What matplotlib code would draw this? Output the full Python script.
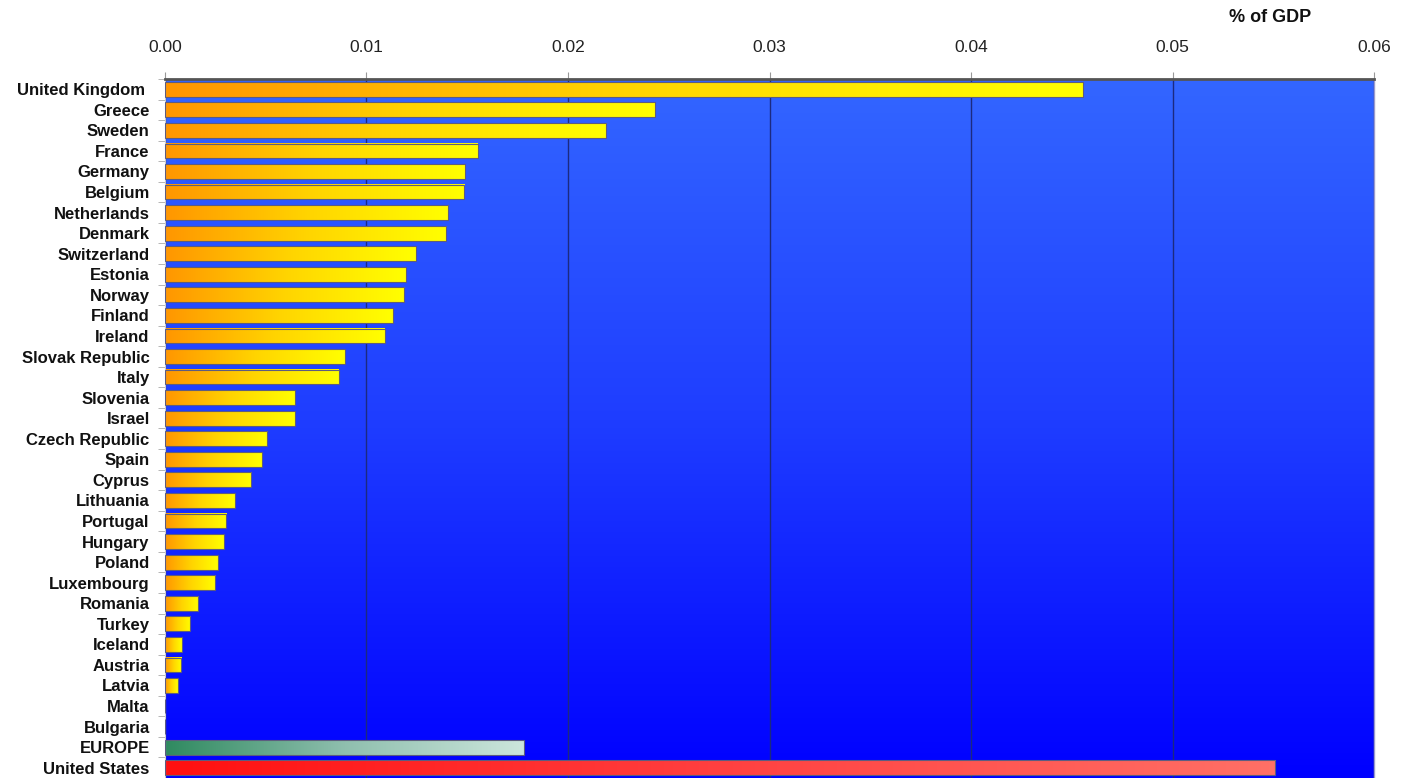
import numpy as np
import matplotlib.pyplot as plt
from matplotlib.colors import LinearSegmentedColormap
from matplotlib.ticker import FixedLocator

plt.rcParams['font.family'] = ['Liberation Sans', 'DejaVu Sans']

# Data (% of GDP)
countries = ['United Kingdom ', 'Greece', 'Sweden', 'France', 'Germany', 'Belgium',
             'Netherlands', 'Denmark', 'Switzerland', 'Estonia', 'Norway', 'Finland',
             'Ireland', 'Slovak Republic', 'Italy', 'Slovenia', 'Israel',
             'Czech Republic', 'Spain', 'Cyprus', 'Lithuania', 'Portugal', 'Hungary',
             'Poland', 'Luxembourg', 'Romania', 'Turkey', 'Iceland', 'Austria',
             'Latvia', 'Malta', 'Bulgaria']
country_values = [0.04555, 0.02430, 0.02190, 0.01553, 0.01487, 0.01485,
                  0.01406, 0.01396, 0.01245, 0.01195, 0.01187, 0.01131,
                  0.01091, 0.00891, 0.00862, 0.00645, 0.00644,
                  0.00508, 0.00481, 0.00427, 0.00347, 0.00304, 0.00291,
                  0.00263, 0.00249, 0.00166, 0.00126, 0.00084, 0.00082,
                  0.00063, 0.0, 0.0]
europe_label = 'EUROPE'
europe_value = 0.0178
us_label = 'United States'
us_value = 0.0551

x_ticks = [0.00, 0.01, 0.02, 0.03, 0.04, 0.05, 0.06]

labels = countries + [europe_label, us_label]
values = country_values + [europe_value, us_value]
cmaps = (['country'] * len(countries)) + ['europe', 'us']

gradients = {
    'country': LinearSegmentedColormap.from_list('c', ['#ff9600', '#ffd400', '#ffff00']),
    'europe': LinearSegmentedColormap.from_list('e', ['#2f8a60', '#8fbfae', '#cce6dc']),
    'us': LinearSegmentedColormap.from_list('u', ['#ff1010', '#ff4040', '#ff7066']),
}
bg_cmap = LinearSegmentedColormap.from_list('bg', ['#3366ff', '#1e3cff', '#0000ff'])

fig = plt.figure(figsize=(14.1, 7.78), dpi=100)
ax = fig.add_axes([0.117, 0.0, 0.8575, 0.8985])

n = len(labels)
ypos = np.arange(n)
bar_h = 0.72

# blue gradient background
ax.imshow(np.linspace(0, 1, 256).reshape(-1, 1), cmap=bg_cmap, aspect='auto',
          extent=[0, 1, 0, 1], transform=ax.transAxes, zorder=0)

# gradient-filled bars
grad = np.linspace(0, 1, 256).reshape(1, -1)
for y, v, c in zip(ypos, values, cmaps):
    if v <= 0:
        continue
    ax.imshow(grad, cmap=gradients[c], aspect='auto', interpolation='bilinear',
              extent=[0, v, y + bar_h / 2, y - bar_h / 2], zorder=2)
ax.barh(ypos, values, height=bar_h, facecolor='none', edgecolor='#5c5c80',
        linewidth=0.8, zorder=3)

ax.set_xlim(0, 0.06)
ax.set_ylim(n - 0.5, -0.5)

ax.xaxis.tick_top()
ax.set_xticks(x_ticks)
ax.set_xticklabels([f'{t:.2f}' for t in x_ticks], fontsize=12.5, color='#222222')
ax.tick_params(axis='x', length=5, color='#999999', pad=12)
ax.grid(True, axis='x', color='#1c2a80', linewidth=1.0, zorder=1)

ax.set_yticks(ypos)
ax.set_yticklabels(labels, fontsize=12, fontweight='bold', color='#111111')
ax.tick_params(axis='y', which='major', length=0, pad=11)
ax.yaxis.set_minor_locator(FixedLocator(np.arange(-0.5, n - 1, 1.0)))
ax.tick_params(axis='y', which='minor', length=5, color='#aaaaaa')

ax.spines['top'].set_color('#555555')
ax.spines['top'].set_linewidth(2)
ax.spines['right'].set_color('#9a9acc')
ax.spines['right'].set_linewidth(1)
ax.spines['left'].set_color('#cccccc')
ax.spines['left'].set_linewidth(0.8)
ax.spines['bottom'].set_visible(False)

fig.text(0.9007, 0.978, '% of GDP', ha='center', va='center',
         fontsize=13, fontweight='bold', color='#111111')

fig.savefig('out.png', dpi=100)
